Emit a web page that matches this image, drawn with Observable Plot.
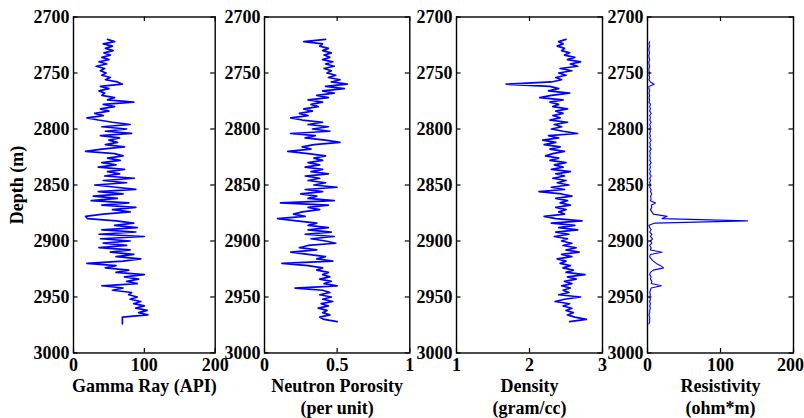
<!DOCTYPE html>
<html><head><meta charset="utf-8">
<script src="https://cdn.jsdelivr.net/npm/d3@7"></script>
<script src="https://cdn.jsdelivr.net/npm/@observablehq/plot@0.6"></script>
<style>
body{margin:0;background:#fff;}
#chart{position:relative;width:804px;height:418px;overflow:hidden;background:#fff;}
#chart svg{position:absolute;top:0;background:transparent;overflow:visible;}
#chart svg, #chart svg text{font-family:"Liberation Serif","Times New Roman",Times,serif !important;font-weight:bold !important;}
</style></head><body><div id="chart"></div>
<script>
// Depth (m)
const depth = [
2720,2722,2724,2726,2728,2730,2732,2734,2736,2738,
2740,2742,2744,2746,2748,2750,2752,2754,2756,2758,
2760,2762,2764,2766,2768,2770,2772,2774,2776,2778,
2780,2782,2784,2786,2788,2790,2792,2794,2796,2798,
2800,2802,2804,2806,2808,2810,2812,2814,2816,2818,
2820,2822,2824,2826,2828,2830,2832,2834,2836,2838,
2840,2842,2844,2846,2848,2850,2852,2854,2856,2858,
2860,2862,2864,2866,2868,2870,2872,2874,2876,2878,
2880,2882,2884,2886,2888,2890,2892,2894,2896,2898,
2900,2902,2904,2906,2908,2910,2912,2914,2916,2918,
2920,2922,2924,2926,2928,2930,2932,2934,2936,2938,
2940,2942,2944,2946,2948,2950,2952,2954,2956,2958,
2960,2962,2964,2966,2968,2970,2972,2974];

// Gamma Ray (API)
const gammaRay = [
48,58,42,55,45,56,43,52,40,50,
36,47,32,44,38,46,40,52,45,62,
69,38,50,36,44,40,58,48,85,42,
58,38,50,30,42,19,35,55,80,40,
75,45,82,38,65,50,62,45,72,40,
17,58,70,48,66,40,60,35,72,48,
65,44,86,42,75,30,60,88,35,70,
28,62,25,78,40,88,55,80,42,17,
20,60,85,58,90,40,88,36,100,38,
80,42,75,36,80,52,85,60,95,70,
19,60,45,78,60,100,72,92,75,90,
40,70,55,82,78,90,80,95,85,100,
88,104,92,105,69,69,69,69];

// Neutron Porosity (per unit)
const neutronPorosity = [
0.42,0.27,0.40,0.38,0.44,0.40,0.46,0.41,0.45,0.40,
0.47,0.42,0.48,0.41,0.46,0.43,0.49,0.44,0.52,0.46,
0.57,0.42,0.55,0.40,0.48,0.36,0.44,0.30,0.40,0.32,
0.37,0.27,0.33,0.24,0.30,0.18,0.26,0.40,0.30,0.44,
0.33,0.45,0.18,0.35,0.28,0.42,0.52,0.34,0.26,0.32,
0.16,0.30,0.42,0.34,0.40,0.30,0.38,0.28,0.40,0.32,
0.44,0.28,0.38,0.30,0.42,0.34,0.50,0.28,0.40,0.25,
0.36,0.30,0.48,0.11,0.44,0.30,0.38,0.26,0.20,0.28,
0.09,0.22,0.36,0.30,0.44,0.30,0.46,0.28,0.48,0.32,
0.42,0.49,0.30,0.24,0.36,0.18,0.30,0.42,0.36,0.47,
0.12,0.30,0.40,0.36,0.44,0.40,0.45,0.38,0.46,0.41,
0.50,0.21,0.40,0.45,0.38,0.46,0.40,0.47,0.39,0.44,
0.37,0.43,0.40,0.45,0.38,0.41,0.50,null];

// Density (gram/cc)
const density = [
2.50,2.40,2.46,2.38,2.48,2.44,2.55,2.48,2.62,2.52,
2.70,2.56,2.66,2.42,2.58,2.40,2.50,2.36,2.44,2.30,
1.68,2.28,2.40,2.26,2.55,2.30,2.14,2.46,2.28,2.40,
2.32,2.52,2.36,2.46,2.32,2.42,2.28,2.52,2.34,2.44,
2.30,2.46,2.66,2.26,2.40,2.18,2.36,2.20,2.42,2.28,
2.48,2.32,2.22,2.40,2.28,2.50,2.34,2.46,2.30,2.56,
2.36,2.48,2.32,2.50,2.38,2.54,2.30,2.48,2.13,2.44,
2.58,2.36,2.52,2.42,2.56,2.36,2.50,2.40,2.48,2.20,
2.36,2.72,2.30,2.62,2.40,2.66,2.36,2.54,2.34,2.52,
2.44,2.58,2.46,2.64,2.50,2.68,2.44,2.58,2.38,2.50,
2.42,2.56,2.46,2.60,2.50,2.76,2.52,2.64,2.48,2.58,
2.44,2.56,2.46,2.54,2.40,2.70,2.48,2.35,2.55,2.46,
2.58,2.50,2.60,2.52,2.62,2.78,2.55,null];

// Resistivity (ohm*m)
const resistivity = [
null,3,2,3,2,2,3,2,2,3,
2,2,3,2,2,3,2,3,2,4,
9,2,2,3,2,3,2,3,2,4,
3,4,3,5,3,4,3,5,3,4,
3,4,3,4,3,5,3,4,3,5,
3,4,3,4,3,5,3,4,3,4,
3,5,3,4,3,4,3,5,4,6,
4,5,4,11,5,6,4,6,8,27,
20,137,10,2,3,5,3,6,4,7,
4,6,3,5,4,20,4,3,5,8,
12,18,22,8,4,3,5,4,6,5,
19,5,4,3,4,3,4,3,4,3,
4,3,3,2,3,3,3,2];

const depthTicks = [2700,2750,2800,2850,2900,2950,3000];
const gammaTicks = [0,100,200];
const porosityTicks = [0,0.5,1];
const densityTicks = [1,2,3];
const resistivityTicks = [0,100,200];

const labels = ["Gamma Ray (API)", "Neutron Porosity\n(per unit)", "Density\n(gram/cc)", "Resistivity\n(ohm*m)"];

const panels = [
  {values: gammaRay, domain: [0,200], ticks: gammaTicks, label: labels[0], left: 73.3, right: 215, sw: 1.7},
  {values: neutronPorosity, domain: [0,1], ticks: porosityTicks, label: labels[1], left: 264, right: 409.3, sw: 1.7},
  {values: density, domain: [1,3], ticks: densityTicks, label: labels[2], left: 455.7, right: 601.7, sw: 1.7},
  {values: resistivity, domain: [0,200], ticks: resistivityTicks, label: labels[3], left: 646.7, right: 792.7, sw: 1.1}
];

const FONT = "'Liberation Serif','Times New Roman',Times,serif";
const chart = document.getElementById("chart");
const ML = 75, MR = 8, MT = 16.5, MB = 65.5, H = 418;
const fmt = d => String(d);

panels.forEach((p, k) => {
  const w = p.right - p.left;
  const last = k === panels.length - 1;
  const rows = depth.map((d, i) => ({d, v: p.values[i]}));
  const marks = [
    Plot.line(rows, {x: "v", y: "d", stroke: "#0000ff", strokeWidth: p.sw}),
    Plot.frame({stroke: "black", strokeWidth: 1.4}),
    // inward tick marks on all four sides
    Plot.tickY(depthTicks, {y: d => d, insetRight: w - 4.5, stroke: "black", strokeWidth: 1.2}),
    Plot.tickY(depthTicks, {y: d => d, insetLeft: w - 4.5, stroke: "black", strokeWidth: 1.2}),
    Plot.tickX(p.ticks, {x: d => d, insetTop: (H - MT - MB) - 4.5, stroke: "black", strokeWidth: 1.2}),
    Plot.tickX(p.ticks, {x: d => d, insetBottom: (H - MT - MB) - 4.5, stroke: "black", strokeWidth: 1.2}),
    Plot.axisY(depthTicks, {anchor: "left", tickSize: 0, tickPadding: 4, tickFormat: fmt, label: null, fill: "black"}),
    Plot.axisX(last ? p.ticks.slice(0, -1) : p.ticks, {anchor: "bottom", tickSize: 0, tickPadding: 5, tickFormat: fmt, label: null, fill: "black"}),
    Plot.text([p.label], {text: d => d, frameAnchor: "bottom", dy: 24, lineAnchor: "top", lineHeight: 1.2, fill: "black"})
  ];
  if (last) {
    marks.push(Plot.axisX(p.ticks.slice(-1), {anchor: "bottom", tickSize: 0, tickPadding: 5, tickFormat: fmt, label: null, fill: "black", dx: -3}));
  }
  if (k === 0) {
    marks.push(Plot.text(["Depth (m)"], {text: d => d, frameAnchor: "left", dx: -56, rotate: -90, textAnchor: "middle", lineAnchor: "middle", fill: "black"}));
  }
  const svg = Plot.plot({
    width: ML + w + MR, height: H,
    marginLeft: ML, marginRight: MR, marginTop: MT, marginBottom: MB,
    style: {fontFamily: FONT, fontSize: "18px", fontWeight: "bold", color: "black", background: "transparent", overflow: "visible"},
    x: {domain: p.domain, ticks: p.ticks},
    y: {domain: [2700, 3000], reverse: true, ticks: depthTicks},
    marks
  });
  svg.style.left = (p.left - ML) + "px";
  chart.appendChild(svg);
});
</script>
</body></html>
